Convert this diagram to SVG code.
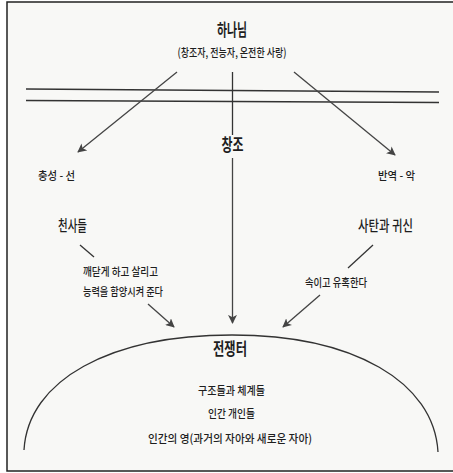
<svg xmlns="http://www.w3.org/2000/svg" width="453" height="473" viewBox="0 0 453 473">
<defs>
<style>
.t{font-family:"Noto Sans CJK KR","Noto Sans",sans-serif;fill:#1e1e1e;text-anchor:middle;font-weight:500}
.b{font-weight:bold}
.ln{stroke:#333;stroke-width:1.3;fill:none}
.ar{stroke:#444;stroke-width:1.3;fill:none;marker-end:url(#ah)}
</style>
<marker id="ah" viewBox="0 0 10 10" refX="9" refY="5" markerWidth="9" markerHeight="9" markerUnits="userSpaceOnUse" orient="auto">
<path d="M0,0 L10,5 L0,10 L2.5,5 Z" fill="#444"/>
</marker>
</defs>
<rect x="0" y="0" width="453" height="473" fill="#fff"/>
<rect x="7" y="2" width="450" height="469" fill="#f8f8f6" stroke="#222" stroke-width="1.5"/>
<g id="bars">
<line class="ln" x1="26" y1="89" x2="439" y2="92"/>
<line class="ln" x1="26" y1="100.5" x2="439" y2="102.5"/>
</g>
<g id="god">
<text class="t b" x="232" y="36" font-size="17" textLength="30" lengthAdjust="spacingAndGlyphs">하나님</text>
<text class="t" x="232" y="57" font-size="11.5" textLength="109" lengthAdjust="spacingAndGlyphs">(창조자, 전능자, 온전한 사랑)</text>
</g>
<g id="creation">
<text class="t b" x="232.5" y="151" font-size="17" textLength="22" lengthAdjust="spacingAndGlyphs">창조</text>
</g>
<g id="loyal">
<text class="t" x="56.5" y="180" font-size="11" textLength="37" lengthAdjust="spacingAndGlyphs">충성 - 선</text>
</g>
<g id="rebel">
<text class="t" x="396.5" y="180" font-size="11" textLength="37" lengthAdjust="spacingAndGlyphs">반역 - 악</text>
</g>
<g id="angels">
<text class="t" x="72.5" y="231" font-size="15" textLength="29" lengthAdjust="spacingAndGlyphs">천사들</text>
<text class="t" x="120.5" y="276" font-size="11" textLength="75" lengthAdjust="spacingAndGlyphs">깨닫게 하고 살리고</text>
<text class="t" x="123" y="296" font-size="11" textLength="80" lengthAdjust="spacingAndGlyphs">능력을 함양시켜 준다</text>
</g>
<g id="satan">
<text class="t" x="385.5" y="231" font-size="15" textLength="55" lengthAdjust="spacingAndGlyphs">사탄과 귀신</text>
<text class="t" x="336" y="287" font-size="11" textLength="62" lengthAdjust="spacingAndGlyphs">속이고 유혹한다</text>
</g>
<g id="battlefield">
<path class="ln" d="M24,450 C28,380 110,335 232,335 C354,335 434,382 438,452"/>
<text class="t b" x="230" y="355" font-size="17" textLength="34" lengthAdjust="spacingAndGlyphs">전쟁터</text>
<text class="t" x="231.5" y="395" font-size="11.5" textLength="67" lengthAdjust="spacingAndGlyphs">구조들과 체계들</text>
<text class="t" x="231.5" y="418" font-size="11.5" textLength="47" lengthAdjust="spacingAndGlyphs">인간 개인들</text>
<text class="t" x="230" y="443" font-size="11.5" textLength="164" lengthAdjust="spacingAndGlyphs">인간의 영(과거의 자아와 새로운 자아)</text>
</g>
<g id="connectors">
<line class="ar" x1="177" y1="72" x2="78" y2="152"/>
<line class="ln" x1="232.5" y1="72" x2="232.5" y2="135"/>
<line class="ar" x1="232.5" y1="158" x2="232.5" y2="323"/>
<line class="ar" x1="294" y1="72" x2="395" y2="155"/>
<line class="ln" x1="80" y1="245" x2="94" y2="257"/>
<line class="ar" x1="148" y1="304" x2="174" y2="327"/>
<line class="ln" x1="373" y1="245" x2="348" y2="268"/>
<line class="ar" x1="320" y1="295" x2="283" y2="327"/>
</g>
</svg>
